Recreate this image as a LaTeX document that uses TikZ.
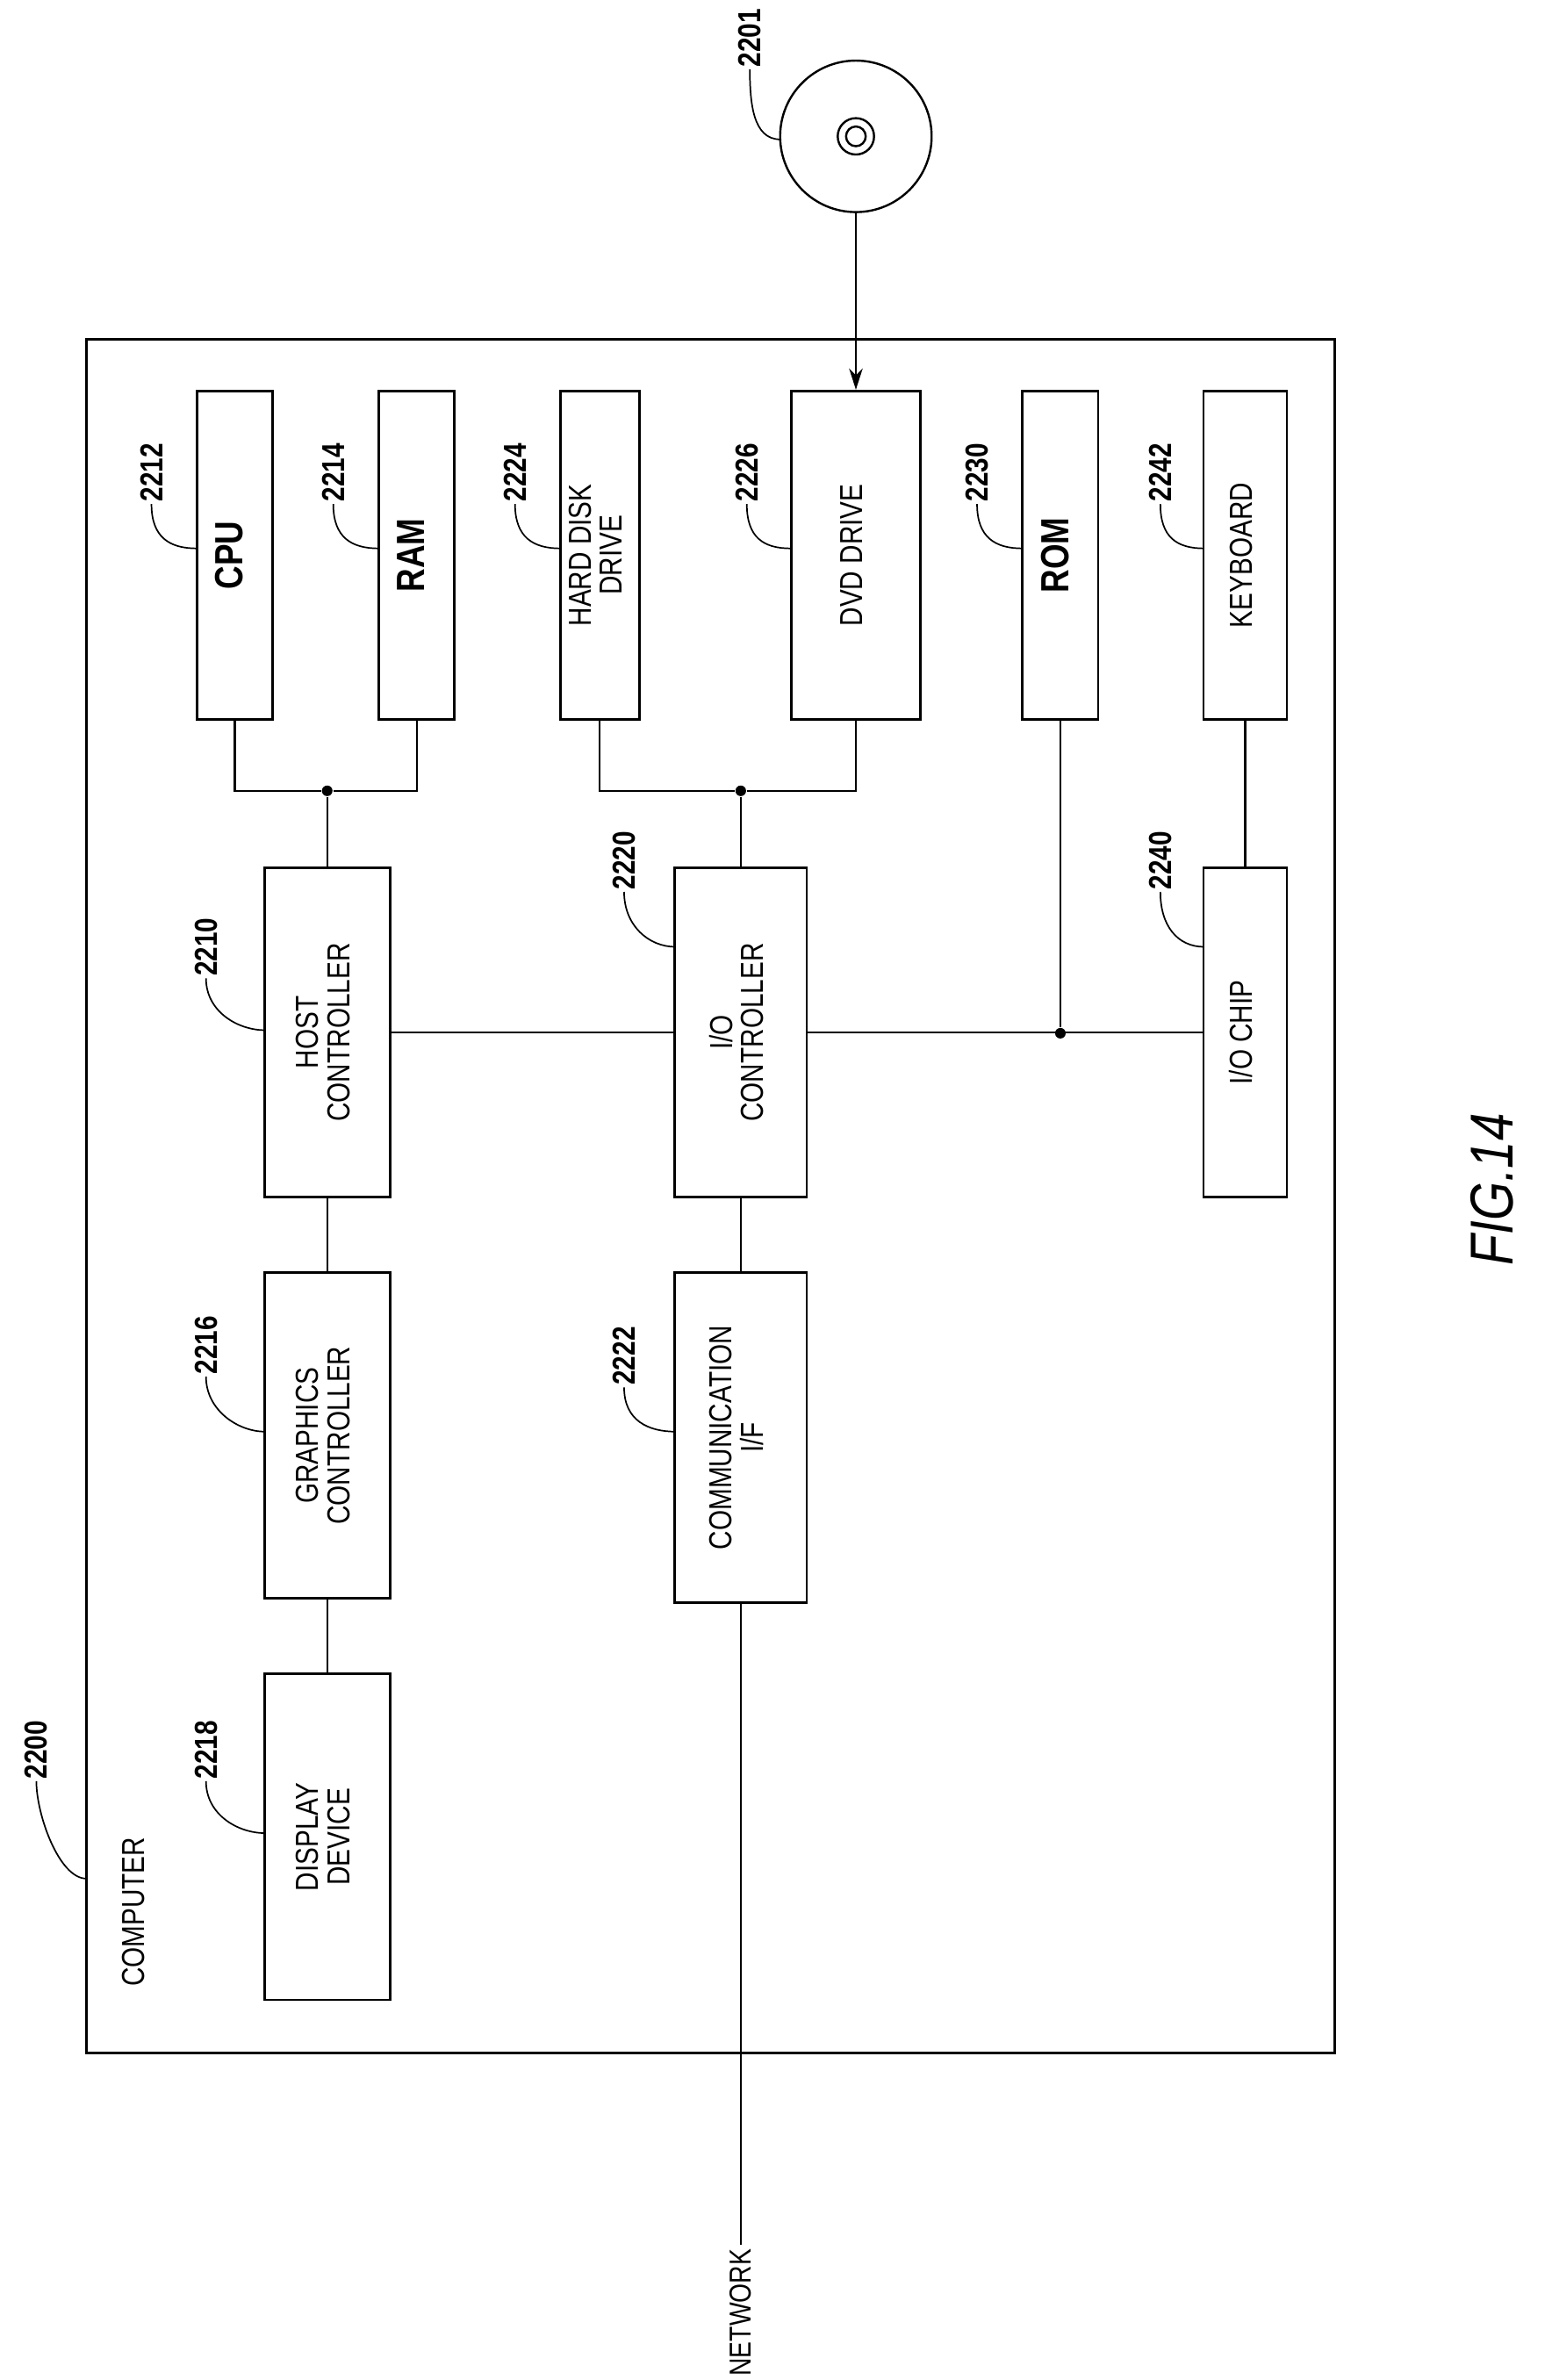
\documentclass[tikz,border=0pt]{standalone}
\usepackage{fontspec}
\setmainfont{Liberation Sans}[FakeStretch=0.82]
\usetikzlibrary{arrows.meta}
\tikzset{
  box/.style={draw,line width=1.6pt,inner sep=0pt,font=\fontsize{21}{19}\selectfont},
  bbox/.style={box,font=\fontsize{26}{24}\selectfont\bfseries},
  num/.style={rotate=90,font=\fontsize{21}{21}\selectfont\bfseries,inner sep=1pt},
  lead/.style={line width=1pt},
  dot/.style={circle,fill,inner sep=0pt,minimum size=7pt},
}
\newcommand{\rt}[1]{\rotatebox{90}{\begin{tabular}{@{}c@{}}#1\end{tabular}}}
\begin{document}
\begin{tikzpicture}[x=1pt,y=-1pt,line width=1.2pt]
\useasboundingbox (0,0) rectangle (1024,1571);
% outer computer box
\draw[line width=2pt] (57,224) rectangle (881,1355);
\node[rotate=90,font=\fontsize{21}{21}\selectfont] (comp) at (88,1262) {COMPUTER};
% top row
\node[bbox,minimum width=50,minimum height=217] (cpu) at (155,366.5) {\rt{CPU}};
\node[bbox,minimum width=50,minimum height=217] (ram) at (275,366.5) {\rt{RAM}};
\node[box,minimum width=52,minimum height=217] (hdd) at (396,366.5) {\rt{HARD DISK\\DRIVE}};
\node[box,minimum width=85,minimum height=217] (dvd) at (565,366.5) {\rt{DVD DRIVE}};
\node[bbox,minimum width=50,minimum height=217] (rom) at (700,366.5) {\rt{ROM}};
\node[box,minimum width=55,minimum height=217] (kbd) at (822,366.5) {\rt{KEYBOARD}};
% middle row
\node[box,minimum width=83,minimum height=217] (host) at (216,681.5) {\rt{HOST\\CONTROLLER}};
\node[box,minimum width=87,minimum height=217] (ioc) at (489,681.5) {\rt{I/O\\CONTROLLER}};
\node[box,minimum width=55,minimum height=217] (chip) at (822,681.5) {\rt{I/O CHIP}};
% lower rows
\node[box,minimum width=83,minimum height=215] (gfx) at (216,947.5) {\rt{GRAPHICS\\CONTROLLER}};
\node[box,minimum width=87,minimum height=218] (comm) at (489,949) {\rt{COMMUNICATION\\I/F}};
\node[box,minimum width=83,minimum height=215] (disp) at (216,1212.5) {\rt{DISPLAY\\DEVICE}};
% disc
\node[draw,circle,line width=1.4pt,minimum size=100pt,inner sep=0pt] (disc) at (565,90) {};
\draw[line width=1.4pt] (disc.center) circle (12) circle (6.5);
\draw[-{Stealth[length=14pt,width=9pt]}] (disc.south) -- (dvd.north);
% buses
\node[dot] (d1) at (216,522) {};
\draw (cpu.south) |- (d1) -| (ram.south);
\draw (d1) -- (host.north);
\node[dot] (d2) at (489,522) {};
\draw (hdd.south) |- (d2) -| (dvd.south);
\draw (d2) -- (ioc.north);
\node[dot] (d3) at (700,682) {};
\draw (host.east) -- (ioc.west);
\draw (ioc.east) -- (chip.west);
\draw (rom.south) -- (d3);
\draw (kbd.south) -- (chip.north);
\draw (host.south) -- (gfx.north);
\draw (gfx.south) -- (disp.north);
\draw (ioc.south) -- (comm.north);
\node[rotate=90,font=\fontsize{20}{20}\selectfont,anchor=west,inner sep=2pt] (net) at (489,1571) {NETWORK};
\draw (comm.south) -- (net.east);
% reference numerals
\foreach \n/\x/\y/\tx/\ty in {%
  2201/495/25/515/92,
  2212/100/312/130/362,2214/220/312/250/362,2224/340/312/370/362,
  2226/493/312/522/362,2230/645/312/675/362,2242/766/312/795/362,
  2210/136/625/175/680,2220/412/568/446/625,2240/766/568/795/625,
  2216/136/888/175/945,2222/412/895/446/945,2218/136/1155/175/1210,
  2200/24/1155/57/1240}{
  \node[num] (n\n) at (\x,\y) {\n};
  \draw[lead] (n\n.west) .. controls +(0,22) and +(-18,0) .. (\tx,\ty);
}
\node[rotate=90,font=\fontsize{40}{40}\selectfont\itshape] (fig) at (985,785) {FIG.14};
\end{tikzpicture}
\end{document}
